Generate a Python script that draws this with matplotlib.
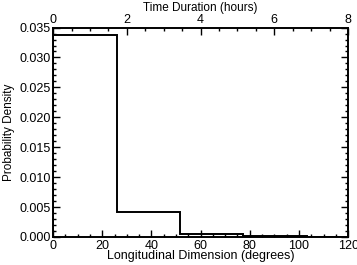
import matplotlib
matplotlib.use("Agg")
import matplotlib.pyplot as plt
from matplotlib.ticker import MultipleLocator

plt.rcParams["font.family"] = ["Liberation Sans", "DejaVu Sans"]

# histogram bin edges (degrees) and probability density per bin
bin_edges = [0, 25.8, 51.6, 77.4, 103.2, 129.0]
density = [0.0338, 0.0042, 0.0005, 0.0002, 0.0]

fig = plt.figure(figsize=(3.57, 2.65), dpi=100)
ax = fig.add_axes([0.149, 0.106, 0.826, 0.790])

ax.stairs(density, bin_edges, color="black", linewidth=1.4)

ax.set_xlim(0, 120)
ax.set_ylim(0, 0.035)
ax.xaxis.set_major_locator(MultipleLocator(20))
ax.xaxis.set_minor_locator(MultipleLocator(5))
ax.yaxis.set_major_locator(MultipleLocator(0.005))
ax.yaxis.set_minor_locator(MultipleLocator(0.001))
ax.yaxis.set_major_formatter(plt.FormatStrFormatter("%.3f"))
ax.tick_params(which="both", direction="in", right=True, labelsize=9, width=1.0, pad=2)
ax.tick_params(which="major", length=5)
ax.tick_params(which="minor", length=2.5)
ax.set_xlabel("Longitudinal Dimension (degrees)", fontsize=9, labelpad=-1)
ax.set_ylabel("Probability Density", fontsize=8.5, labelpad=3)

# top axis: time duration in hours
top = ax.twiny()
top.set_xlim(0, 8)
top.xaxis.set_major_locator(MultipleLocator(2))
top.xaxis.set_minor_locator(MultipleLocator(0.5))
top.tick_params(which="both", direction="in", labelsize=9, width=1.0, pad=1)
top.tick_params(which="major", length=5)
top.tick_params(which="minor", length=2.5)
top.set_xlabel("Time Duration (hours)", fontsize=8.5, labelpad=2)

for a in (ax, top):
    for s in a.spines.values():
        s.set_linewidth(1.2)

fig.savefig("out.png", dpi=100)
